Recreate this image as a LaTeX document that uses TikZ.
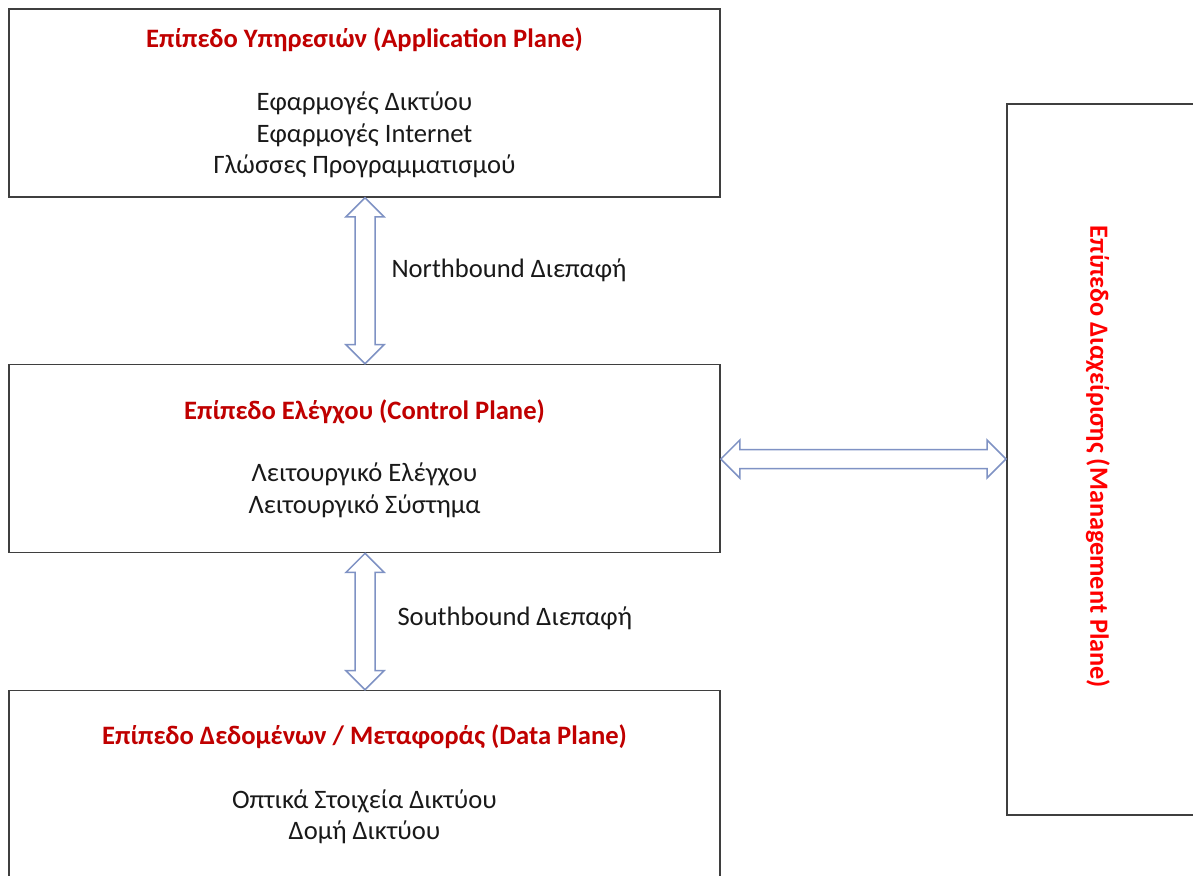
\documentclass[tikz,border=0pt]{standalone}
\usepackage{fontspec}
\setmainfont{Carlito}
\usetikzlibrary{calc}
\definecolor{boxline}{HTML}{3F3F3F}
\definecolor{titlered}{HTML}{C00000}
\definecolor{mgmtred}{HTML}{FF0000}
\definecolor{arrowblue}{HTML}{7F92C4}
\tikzset{
  plane/.style={draw=boxline, line width=1.6pt, minimum width=711pt, minimum height=188pt,
    inner sep=0pt, align=center, font=\fontsize{26.6}{31.5}\selectfont, text=black!90},
  fatarrow/.style={draw=arrowblue, line width=1.5pt, fill=white, line join=miter},
  iflabel/.style={font=\fontsize{26.6}{31}\selectfont, text=black!90, anchor=west}
}
\newcommand{\ttl}[1]{{\bfseries\color{titlered}#1}}
% vertical double block arrow between two tips
\newcommand{\vfat}[2]{%
  \draw[fatarrow] (#1) -- ($(#1)+(19,19)$) -- ($(#1)+(10,19)$) -- ($(#2)+(10,-19)$)
    -- ($(#2)+(19,-19)$) -- (#2) -- ($(#2)+(-19,-19)$) -- ($(#2)+(-10,-19)$)
    -- ($(#1)+(-10,19)$) -- ($(#1)+(-19,19)$) -- cycle;}
% horizontal double block arrow between two tips
\newcommand{\hfat}[2]{%
  \draw[fatarrow] (#1) -- ($(#1)+(19,-19)$) -- ($(#1)+(19,-9.5)$) -- ($(#2)+(-19,-9.5)$)
    -- ($(#2)+(-19,-19)$) -- (#2) -- ($(#2)+(-19,19)$) -- ($(#2)+(-19,9.5)$)
    -- ($(#1)+(19,9.5)$) -- ($(#1)+(19,19)$) -- cycle;}
\begin{document}
\begin{tikzpicture}[x=1pt, y=-1pt]
  \clip (0,0) rectangle (1193,875);
  \useasboundingbox (0,0) rectangle (1193,875);
  \fill[white] (0,0) rectangle (1193,875);

  \node[plane] (app) at (364.5,103) {\ttl{Επίπεδο Υπηρεσιών (Application Plane)}\\[31.5pt]
    Εφαρμογές Δικτύου\\ Εφαρμογές Internet\\ Γλώσσες Προγραμματισμού};
  \node[plane] (ctrl) at (364.5,458.5) {\ttl{Επίπεδο Ελέγχου (Control Plane)}\\[31pt]
    Λειτουργικό Ελέγχου\\ Λειτουργικό Σύστημα};
  \node[plane] (data) at (364.5,784.5) {\ttl{Επίπεδο Δεδομένων / Μεταφοράς (Data Plane)}\\[32pt]
    Οπτικά Στοιχεία Δικτύου\\ Δομή Δικτύου};

  \node[draw=boxline, line width=1.6pt, minimum width=200pt, minimum height=711pt,
        inner sep=0pt, anchor=north west] (mgmt) at (1006,103) {};
  \node[rotate=-90, font=\fontsize{26.3}{31}\selectfont\bfseries, text=mgmtred] (mgmtlabel)
    at (1098,457) {Επίπεδο Διαχείρισης (Management Plane)};

  \path (365,0) coordinate (axis);
  \coordinate (nTop) at (app.south -| axis);
  \coordinate (nBot) at (ctrl.north -| axis);
  \coordinate (sTop) at (ctrl.south -| axis);
  \coordinate (sBot) at (data.north -| axis);
  \vfat{nTop}{nBot}
  \vfat{sTop}{sBot}
  \coordinate (mL) at (ctrl.east |- 0,459);
  \coordinate (mR) at (mgmt.west |- 0,459);
  \hfat{mL}{mR}

  \node[iflabel] (nlabel) at (388,270) {Northbound Διεπαφή};
  \node[iflabel] (slabel) at (394,618) {Southbound Διεπαφή};
\end{tikzpicture}
\end{document}
